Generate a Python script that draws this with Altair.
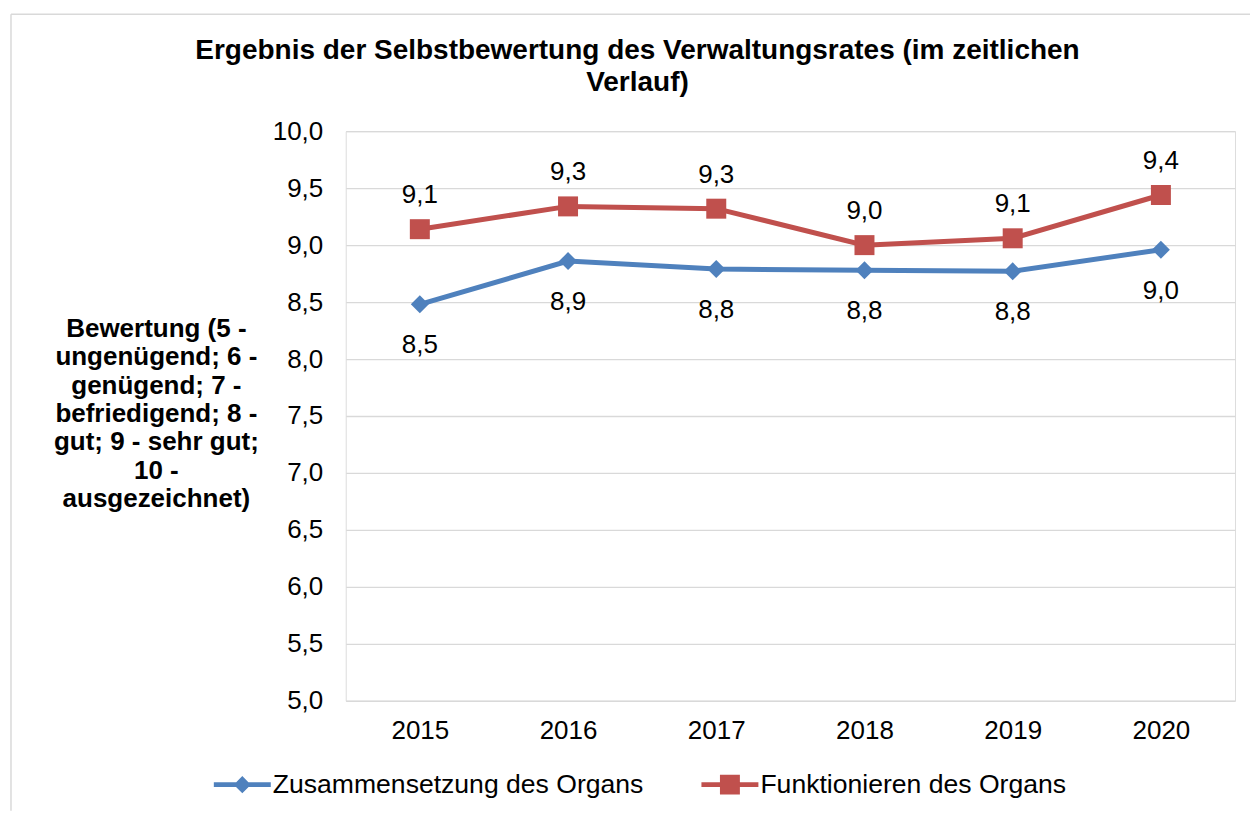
import altair as alt
import pandas as pd

# ---- data ----
years = ["2015", "2016", "2017", "2018", "2019", "2020"]
series_names = ["Zusammensetzung des Organs", "Funktionieren des Organs"]
zusammensetzung = [8.48, 8.86, 8.79, 8.78, 8.77, 8.96]
funktionieren = [9.14, 9.34, 9.32, 9.00, 9.06, 9.44]
colors = ["#4F81BD", "#C0504D"]
y_ticks = [5.0, 5.5, 6.0, 6.5, 7.0, 7.5, 8.0, 8.5, 9.0, 9.5, 10.0]
title_lines = ["Ergebnis der Selbstbewertung des Verwaltungsrates (im zeitlichen", "Verlauf)"]
ytitle_lines = ["Bewertung (5 -", "ungenügend; 6 -", "genügend; 7 -", "befriedigend; 8 -",
                "gut; 9 - sehr gut;", "10 -", "ausgezeichnet)"]

rows = []
for yr, a, b in zip(years, zusammensetzung, funktionieren):
    rows.append({"year": yr, "series": series_names[0], "value": a})
    rows.append({"year": yr, "series": series_names[1], "value": b})
df = pd.DataFrame(rows)

FONT = "Liberation Sans"
W, H = 890, 570

x_enc = alt.X("year:O", sort=years, title=None,
              scale=alt.Scale(type="point", padding=0.5),
              axis=alt.Axis(labelAngle=0, labelFontSize=26, labelFont=FONT, labelColor="black",
                            labelPadding=17, domain=False, ticks=False, grid=False))
y_enc = alt.Y("value:Q", title=ytitle_lines,
              scale=alt.Scale(domain=[5, 10], zero=False, nice=False),
              axis=alt.Axis(values=y_ticks, labelFontSize=26, labelFont=FONT, labelColor="black",
                            labelPadding=23, domain=False, ticks=False, grid=True,
                            gridColor="#D9D9D9", gridWidth=1.3,
                            labelExpr="replace(format(datum.value, '.1f'), '.', ',')",
                            titleAngle=0, titleX=-190, titleY=197, titleAlign="center",
                            titleBaseline="middle", titleFontSize=26, titleFont=FONT,
                            titleFontWeight="bold", titleColor="black", titleLineHeight=28.5))
color_scale = alt.Scale(domain=series_names, range=colors)

base = alt.Chart(df)
one = alt.Data(values=[{}])

border_top = alt.Chart(one).mark_rule(stroke="#D9D9D9", strokeWidth=1.5).encode(
    x=alt.value(-335), x2=alt.value(905), y=alt.value(-117))
border_left = alt.Chart(one).mark_rule(stroke="#D9D9D9", strokeWidth=1.5).encode(
    x=alt.value(-335), y=alt.value(-117), y2=alt.value(680))

path_diamond = "M-1,-0.08L1,-0.08L1,0.08L-1,0.08Z M-0.3,0L0,-0.3L0.3,0L0,0.3Z"
path_square = "M-1,-0.08L1,-0.08L1,0.08L-1,0.08Z M-0.35,-0.35L0.35,-0.35L0.35,0.35L-0.35,0.35Z"

leg = alt.Legend(title=None, orient="none", legendX=-132, legendY=625, direction="horizontal",
                 symbolSize=3249, labelFontSize=26.6, labelFont=FONT, labelColor="black",
                 labelOffset=2, labelLimit=1000, columnPadding=57, symbolStrokeWidth=0, padding=0)

legend_layer = base.mark_point(filled=True, size=0, opacity=1).encode(
    x=x_enc, y=y_enc,
    color=alt.Color("series:N", scale=color_scale, legend=leg),
    shape=alt.Shape("series:N", scale=alt.Scale(domain=series_names, range=[path_diamond, path_square]),
                    legend=leg))

lines = base.mark_line(strokeWidth=5).encode(
    x=x_enc, y=y_enc, color=alt.Color("series:N", scale=color_scale, legend=None))

pts_blue = base.transform_filter(alt.datum.series == series_names[0]).mark_point(
    shape="diamond", filled=True, size=324, opacity=1
).encode(x=x_enc, y=y_enc, color=alt.Color("series:N", scale=color_scale, legend=None))

pts_red = base.transform_filter(alt.datum.series == series_names[1]).mark_point(
    shape="square", filled=True, size=400, opacity=1
).encode(x=x_enc, y=y_enc, color=alt.Color("series:N", scale=color_scale, legend=None))

label_expr = "replace(format(datum.value, '.1f'), '.', ',')"
lab_blue = base.transform_filter(alt.datum.series == series_names[0]).transform_calculate(
    label=label_expr
).mark_text(dy=41, fontSize=26, font=FONT, color="black").encode(x=x_enc, y=y_enc, text="label:N")

lab_red = base.transform_filter(alt.datum.series == series_names[1]).transform_calculate(
    label=label_expr
).mark_text(dy=-34, fontSize=26, font=FONT, color="black").encode(x=x_enc, y=y_enc, text="label:N")

chart = alt.layer(border_top, border_left, legend_layer, lines, pts_blue, pts_red,
                  lab_blue, lab_red).resolve_legend(
    color="independent", shape="independent"
).properties(
    width=W, height=H,
    padding={"left": 10, "top": 13, "right": 0, "bottom": 0},
    title=alt.TitleParams(text=title_lines, fontSize=28, font=FONT, fontWeight="bold",
                          anchor="middle", dx=-153, offset=-84, lineHeight=33, color="black"),
).configure_view(stroke=None).configure(background="white")

chart.save("out.html", embed_options={"renderer": "svg", "actions": False})
